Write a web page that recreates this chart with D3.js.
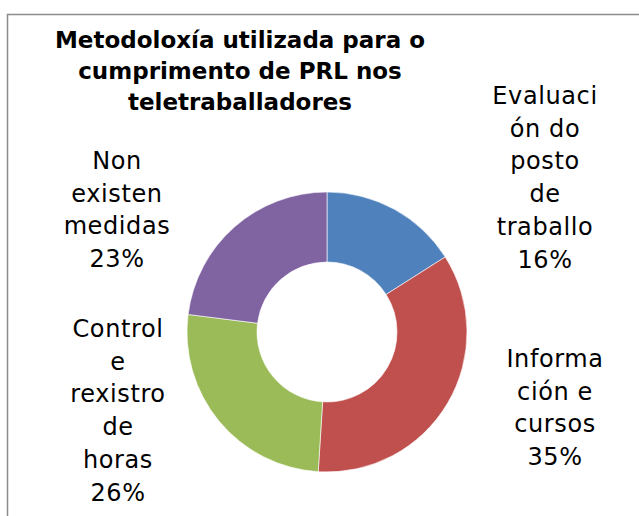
<!DOCTYPE html>
<html>
<head>
<meta charset="utf-8">
<script src="https://cdn.jsdelivr.net/npm/d3@7"></script>
<style>
  html, body { margin: 0; padding: 0; background: #fff; }
  svg { display: block; }
</style>
</head>
<body>
<svg id="chart" width="639" height="516"></svg>
<script>
const categories = [
  ["Evaluaci", "ón do", "posto", "de", "traballo"],
  ["Informa", "ción e", "cursos"],
  ["Control", "e", "rexistro", "de", "horas"],
  ["Non", "existen", "medidas"]
];
const values = [16, 35, 26, 23];
const percentLabels = ["16%", "35%", "26%", "23%"];
const colors = ["#4F81BD", "#C0504D", "#9BBB59", "#8064A2"];
const titleLines = ["Metodoloxía utilizada para o", "cumprimento de PRL nos", "teletraballadores"];

const svg = d3.select("#chart");
const FONT = "'DejaVu Sans', sans-serif";

// frame
svg.append("rect")
  .attr("x", 7.5).attr("y", 14.5)
  .attr("width", 700).attr("height", 600)
  .attr("fill", "#fff")
  .attr("stroke", "#8c8c8c")
  .attr("stroke-width", 1.5);

// title
const title = svg.append("g");
titleLines.forEach((t, i) => {
  title.append("text")
    .attr("x", 240).attr("y", 48 + i * 31)
    .attr("text-anchor", "middle")
    .attr("font-family", FONT)
    .attr("font-weight", "bold")
    .attr("font-size", 23)
    .attr("fill", "#000")
    .text(t);
});

// donut
const cx = 327, cy = 332, rOuter = 140, rInner = 70;
const pie = d3.pie().sort(null).value(d => d)(values);
const arc = d3.arc().innerRadius(rInner).outerRadius(rOuter);
const g = svg.append("g").attr("transform", `translate(${cx},${cy})`);
g.selectAll("path")
  .data(pie)
  .join("path")
  .attr("d", arc)
  .attr("fill", (d, i) => colors[i])
  .attr("stroke", "#fff")
  .attr("stroke-width", 0.6);

// labels
const labelPos = [
  { x: 545, y: 104 },
  { x: 555, y: 367 },
  { x: 118, y: 337 },
  { x: 117, y: 169 }
];
const lineH = 32.7;
categories.forEach((lines, i) => {
  const all = lines.concat([percentLabels[i]]);
  const t = svg.append("text")
    .attr("font-family", FONT)
    .attr("font-size", 24)
    .attr("letter-spacing", 0.6)
    .attr("fill", "#000")
    .attr("text-anchor", "middle");
  all.forEach((l, j) => {
    t.append("tspan")
      .attr("x", labelPos[i].x)
      .attr("y", labelPos[i].y + j * lineH)
      .text(l);
  });
});
</script>
</body>
</html>
